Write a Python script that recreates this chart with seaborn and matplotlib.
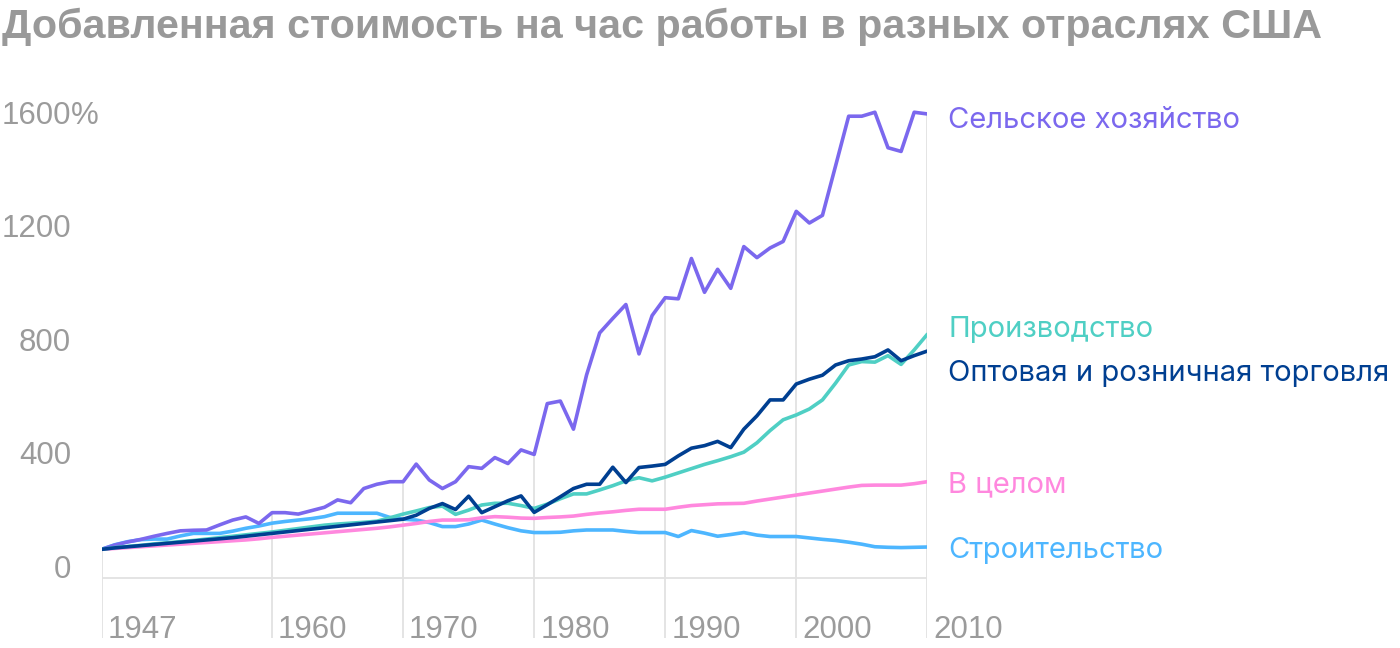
import matplotlib
matplotlib.use("Agg")
import matplotlib.pyplot as plt
from matplotlib.transforms import ScaledTranslation
import pandas as pd
import seaborn as sns

# ---------------- data ----------------
years = list(range(1947, 2011))

agriculture = [101, 116, 127, 136, 147, 157, 166, 168, 169, 187, 204, 215, 192,
               230, 230, 225, 237, 249, 275, 265, 315, 330, 339,
               339, 401, 345, 315, 339, 392, 386, 424, 403, 451,
               435, 614, 623, 524, 715, 863, 914, 963, 789, 924,
               987, 983, 1125, 1006, 1087, 1020, 1167, 1128, 1162, 1185,
               1291, 1250, 1277, 1451, 1626, 1626, 1640, 1515, 1502, 1640, 1634]

manufacturing = [101, 107, 111, 115, 120, 124, 128, 132, 137, 142, 147, 152, 157,
                 162, 168, 174, 180, 186, 190, 193, 196, 200, 212,
                 225, 236, 248, 253, 224, 239, 257, 263, 263, 255,
                 245, 260, 279, 296, 296, 310, 325, 342, 353, 342,
                 355, 370, 385, 400, 413, 427, 443, 476, 519, 557,
                 574, 595, 627, 686, 750, 762, 760, 783, 752, 803, 858]

trade = [101, 106, 110, 114, 118, 122, 126, 130, 134, 138, 142, 147, 152,
         157, 162, 167, 172, 177, 182, 187, 192, 197, 202,
         207, 221, 245, 262, 241, 288, 230, 251, 272, 289,
         231, 258, 286, 315, 330, 330, 390, 336, 389, 394,
         400, 430, 457, 466, 481, 459, 524, 571, 627, 627,
         683, 700, 714, 750, 765, 771, 779, 803, 765, 783, 799]

overall = [101, 104, 107, 110, 113, 116, 119, 122, 125, 128, 131, 134, 138,
           143, 147, 151, 155, 159, 163, 167, 171, 175, 180,
           186, 192, 199, 204, 204, 205, 212, 216, 214, 211,
           210, 213, 215, 218, 224, 229, 233, 238, 242, 242,
           242, 249, 255, 258, 261, 262, 263, 271, 278, 285,
           292, 299, 306, 313, 320, 326, 327, 327, 327, 332, 339]

construction = [101, 117, 128, 135, 137, 137, 148, 157, 157, 157, 165, 175, 183,
                193, 199, 204, 209, 216, 228, 228, 228, 228, 213,
                207, 204, 195, 181, 181, 190, 204, 190, 177, 166,
                160, 160, 161, 166, 169, 169, 169, 164, 160, 160,
                160, 146, 167, 158, 147, 153, 160, 151, 146, 146,
                146, 141, 136, 132, 126, 119, 110, 108, 107, 108, 109]

names = ["Сельское хозяйство", "Производство", "Оптовая и розничная торговля",
         "В целом", "Строительство"]
values = [agriculture, manufacturing, trade, overall, construction]
colors = ["#7b68ee", "#4fcfc4", "#003f91", "#ff88de", "#4db6ff"]
# label baseline offsets (pixels) relative to each line's last point
label_dy = [-14, -3, -30, -11, -11]

tick_years = [1947, 1960, 1970, 1980, 1990, 2000, 2010]
y_ticks = [0, 400, 800, 1200, 1600]
title = "Добавленная стоимость на час работы в разных отраслях США"

# ---------------- style ----------------
sns.set_theme(style="white")
plt.rcParams["font.family"] = ["Liberation Sans", "DejaVu Sans"]
LABEL_FONT = ["Inter", "DejaVu Sans"]
GRAY = "#9b9b9b"
GRID = "#e2e2e2"
FS_TICK = 22.5
FS_LABEL = 21

W, H = 1400, 648
fig = plt.figure(figsize=(W / 100, H / 100), dpi=100)
left_px, right_px, top_px, bottom_px = 101.7, 927.3, 95.2, 637.9
ax = fig.add_axes([left_px / W, 1 - bottom_px / H,
                   (right_px - left_px) / W, (bottom_px - top_px) / H])

rows = []
for name, vals in zip(names, values):
    for yr, v in zip(years, vals):
        rows.append({"year": yr, "value": v, "series": name})
df = pd.DataFrame(rows)

draw_order = ["Строительство", "В целом", "Сельское хозяйство",
              "Производство", "Оптовая и розничная торговля"]
palette = dict(zip(names, colors))
sns.lineplot(data=df, x="year", y="value", hue="series", hue_order=draw_order,
             palette=palette, linewidth=2.6, legend=False, errorbar=None, ax=ax)

ax.set_xlim(1947, 2010)
ax.set_ylim(-211, 1700)
for s in ax.spines.values():
    s.set_visible(False)
ax.set_xlabel("")
ax.set_ylabel("")

# grid: baseline + drop lines from the top series
agri_lookup = dict(zip(years, agriculture))
ax.axhline(0, color=GRID, lw=1.3, zorder=0)
ax.vlines(tick_years, -211, [agri_lookup[y] for y in tick_years],
          color=GRID, lw=1.3, zorder=0)

# y ticks
ax.set_yticks(y_ticks)
ax.set_yticklabels([str(v) for v in y_ticks])
ax.tick_params(axis="y", length=0, pad=(left_px - 71) * 0.72,
               labelsize=FS_TICK, labelcolor=GRAY)
for t in ax.get_yticklabels():
    t.set_va("baseline")
ax.annotate("%", xy=(0, y_ticks[-1]), xycoords=("axes fraction", "data"),
            xytext=(-(left_px - 71), 0), textcoords="offset pixels",
            ha="left", va="baseline", fontsize=FS_TICK, color=GRAY)

# x ticks
ax.set_xticks(tick_years)
ax.set_xticklabels([str(y) for y in tick_years])
ax.tick_params(axis="x", length=0, pad=0, labelsize=FS_TICK, labelcolor=GRAY)
off = ScaledTranslation(6 / 100, 0, fig.dpi_scale_trans)
for t in ax.get_xticklabels():
    t.set_ha("left")
    t.set_va("baseline")
    t.set_transform(t.get_transform() + off)

# end labels
for name, vals, c, dy in zip(names, values, colors, label_dy):
    ax.annotate(name, xy=(years[-1], vals[-1]), xytext=(21, dy),
                textcoords="offset pixels", ha="left", va="baseline",
                fontsize=FS_LABEL, color=c, annotation_clip=False,
                family=LABEL_FONT)

fig.text(2 / W, 1 - 38 / H, title, fontsize=29.7, fontweight="bold",
         color="#999999", ha="left", va="baseline")

fig.savefig("out.png", dpi=100)
